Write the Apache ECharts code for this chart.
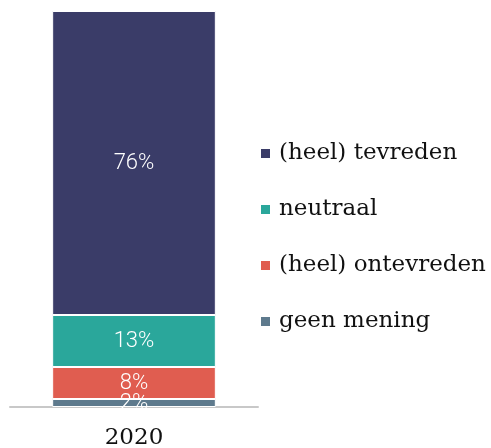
<!DOCTYPE html>
<html>
<head>
<meta charset="utf-8">
<script src="https://cdn.jsdelivr.net/npm/echarts@6/dist/echarts.min.js"></script>
<style>
  html, body { margin: 0; padding: 0; background: #fff; }
  #chart { width: 491px; height: 448px; }
</style>
</head>
<body>
<div id="chart"></div>
<script>
  const years = ['2020'];
  const seriesNames = ['geen mening', '(heel) ontevreden', 'neutraal', '(heel) tevreden'];
  const geenMening = [2];
  const ontevreden = [8];
  const neutraal = [13];
  const tevreden = [76];
  const colors = ['#5e7a8d', '#e05d50', '#2aa79b', '#3a3c68'];

  const serif = '"DejaVu Serif", serif';
  const chart = echarts.init(document.getElementById('chart'));
  const values = [geenMening, ontevreden, neutraal, tevreden];

  const series = seriesNames.map((name, i) => ({
    name,
    type: 'bar',
    stack: 'total',
    barWidth: '66%',
    data: values[i],
    itemStyle: { color: colors[i], borderColor: '#fff', borderWidth: 1 },
    label: {
      show: true,
      position: 'inside',
      formatter: '{c}%',
      color: '#fff',
      fontFamily: 'Roboto',
      fontWeight: 300,
      fontSize: 22
    }
  }));

  chart.setOption({
    animation: false,
    grid: { left: 10, right: 233, top: 11, bottom: 41, containLabel: false, outerBoundsMode: 'none' },
    legend: {
      orient: 'vertical',
      left: 254,
      top: 137,
      itemWidth: 11,
      itemHeight: 11,
      itemGap: 33,
      icon: 'rect',
      data: ['(heel) tevreden', 'neutraal', '(heel) ontevreden', 'geen mening'],
      textStyle: { fontFamily: serif, fontSize: 23, color: '#111', padding: [0, 0, 0, 3] }
    },
    xAxis: {
      type: 'category',
      data: years,
      axisLine: { lineStyle: { color: '#c8c8c8', width: 2 } },
      axisTick: { show: false },
      axisLabel: { fontFamily: serif, fontSize: 23, color: '#111', margin: 20 }
    },
    yAxis: {
      type: 'value',
      min: 0,
      max: 99,
      show: false
    },
    series
  });
</script>
</body>
</html>
